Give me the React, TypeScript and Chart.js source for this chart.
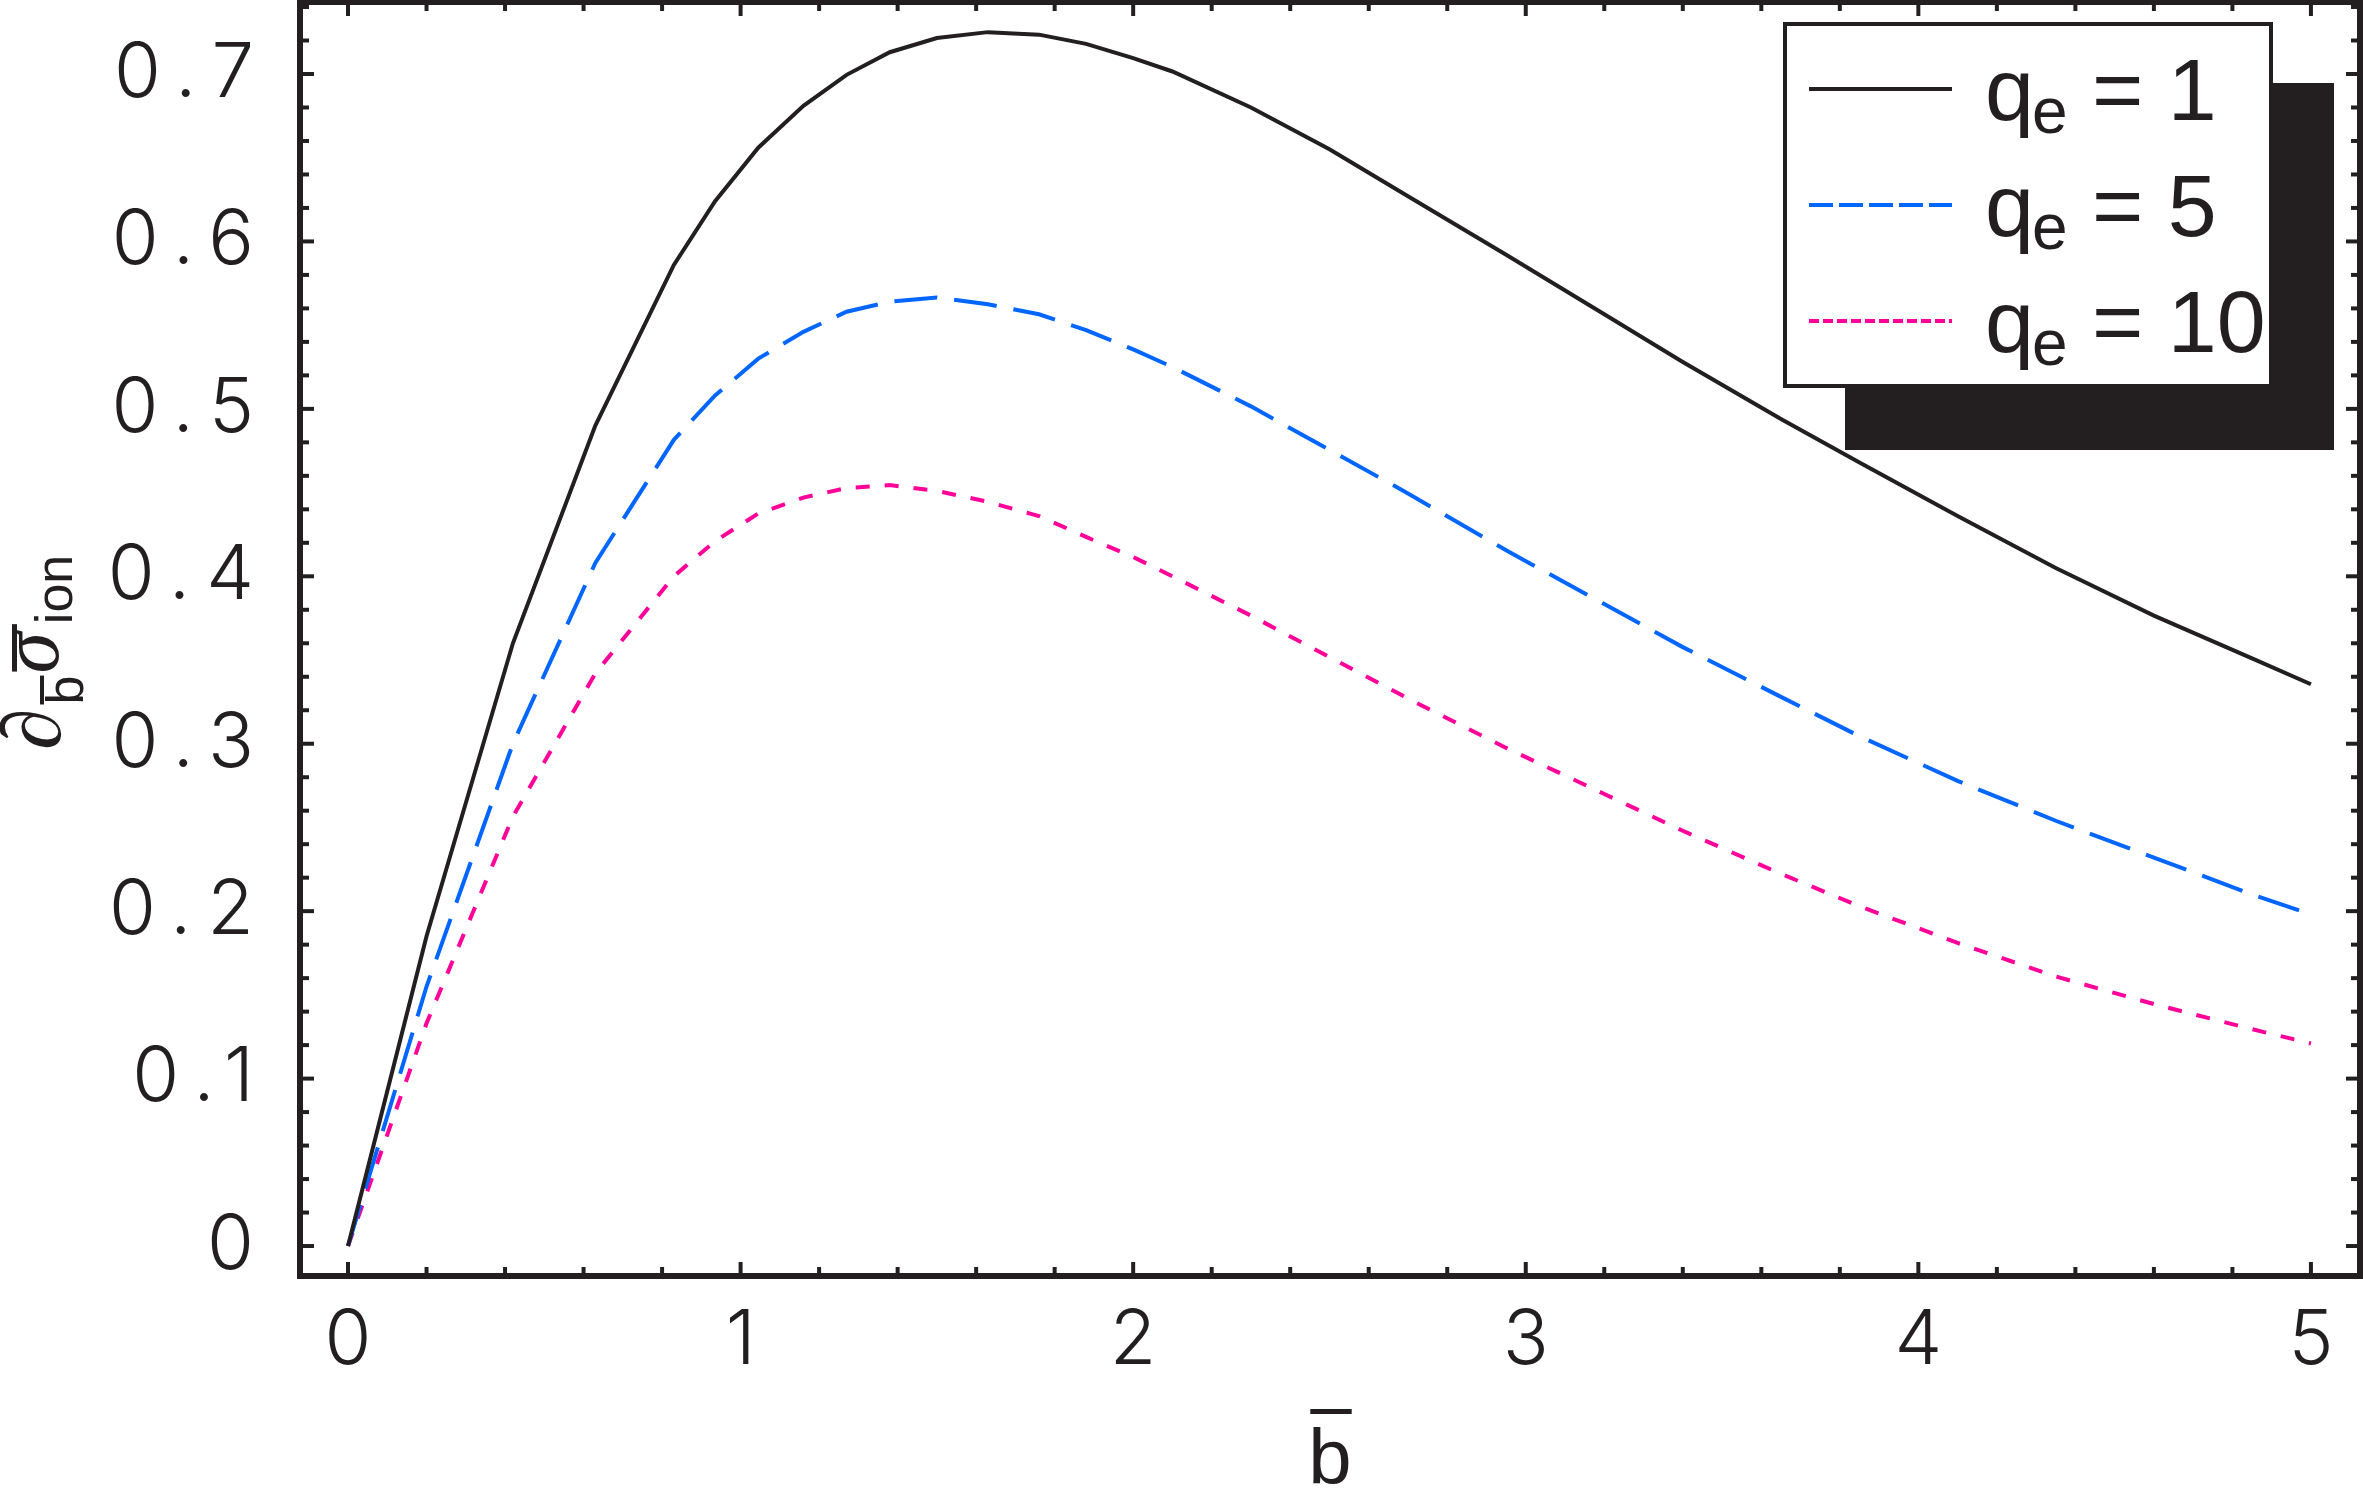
import { useEffect, useRef } from "react";
import { Chart, registerables } from "chart.js";

Chart.register(...registerables);

// ---------- data ----------
const bValues = [0, 0.2, 0.42, 0.63, 0.83, 0.935, 1.045, 1.16, 1.27, 1.38, 1.5, 1.63, 1.76, 1.88, 2.0, 2.1, 2.3, 2.5, 2.7, 2.95, 3.2, 3.4, 3.65, 3.85, 4.1, 4.35, 4.6, 4.85, 5.0];
const sigmaQe1 = [0, 0.185, 0.36, 0.49, 0.586, 0.624, 0.656, 0.681, 0.6995, 0.713, 0.7215, 0.725, 0.7235, 0.718, 0.7095, 0.7015, 0.68, 0.655, 0.627, 0.592, 0.5565, 0.528, 0.494, 0.468, 0.436, 0.405, 0.3765, 0.351, 0.3355];
const sigmaQe5 = [0, 0.155, 0.3, 0.408, 0.4815, 0.508, 0.53, 0.546, 0.558, 0.564, 0.5665, 0.5625, 0.5565, 0.547, 0.5355, 0.525, 0.5015, 0.4755, 0.4495, 0.4155, 0.3834, 0.3577, 0.328, 0.3045, 0.2778, 0.254, 0.232, 0.21, 0.198];
const sigmaQe10 = [0, 0.133, 0.2565, 0.342, 0.4, 0.421, 0.4375, 0.447, 0.4527, 0.4545, 0.451, 0.4445, 0.436, 0.4235, 0.4115, 0.4, 0.3765, 0.3518, 0.327, 0.2975, 0.27, 0.248, 0.2223, 0.203, 0.181, 0.161, 0.1445, 0.1295, 0.121];
const qeLabels = ["1", "5", "10"];
const xTickValues = [0, 1, 2, 3, 4, 5];
const yTickValues = [0, 0.1, 0.2, 0.3, 0.4, 0.5, 0.6, 0.7];
const xMinorStep = 0.2;
const yMinorStep = 0.02;

// ---------- styling ----------
const W = 2363;
const H = 1492;
const INK = "#231f20";
const BLUE = "#0066ff";
const PINK = "#ff0099";
const seriesColors = [INK, BLUE, PINK];
const plotDashes: number[][] = [[], [43, 17], [14, 15]];
const legendDashes: number[][] = [[], [24, 6], [10, 4]];
const TICK_SPACING = 16;
const tickFont = { family: "Inter, Roboto, 'Noto Sans', sans-serif", size: 76, weight: "300" as any };

const zeroPad = (s: any) => {
  s.paddingTop = 0;
  s.paddingBottom = 0;
  s.paddingLeft = 0;
  s.paddingRight = 0;
};

const decorPlugin = {
  id: "decor",
  beforeDraw(chart: any) {
    // monospace-like spacing for the tick labels drawn by the scales
    (chart.ctx as any).letterSpacing = TICK_SPACING + "px";
  },
  afterDatasetsDraw(chart: any) {
    const { ctx, chartArea: a, scales } = chart;
    (ctx as any).letterSpacing = "0px";
    const xs = scales.x;
    const ys = scales.y;
    ctx.save();
    ctx.strokeStyle = INK;
    ctx.fillStyle = INK;
    ctx.lineCap = "butt";

    // inward ticks on all four sides
    ctx.lineWidth = 4;
    const seg = (x1: number, y1: number, x2: number, y2: number) => {
      ctx.beginPath();
      ctx.moveTo(x1, y1);
      ctx.lineTo(x2, y2);
      ctx.stroke();
    };
    for (let i = Math.ceil(xs.min / xMinorStep); i * xMinorStep <= xs.max + 1e-9; i++) {
      const v = i * xMinorStep;
      const major = xTickValues.some((t) => Math.abs(t - v) < 1e-6);
      const len = major ? 14 : 9;
      const px = xs.getPixelForValue(v);
      seg(px, a.bottom, px, a.bottom - len);
      seg(px, a.top, px, a.top + len);
    }
    for (let i = Math.ceil(ys.min / yMinorStep); i * yMinorStep <= ys.max + 1e-9; i++) {
      const v = i * yMinorStep;
      const major = yTickValues.some((t) => Math.abs(t - v) < 1e-6);
      const len = major ? 14 : 9;
      const py = ys.getPixelForValue(v);
      seg(a.left, py, a.left + len, py);
      seg(a.right, py, a.right - len, py);
    }

    // frame
    ctx.lineWidth = 6;
    ctx.strokeRect(a.left, a.top, a.right - a.left, a.bottom - a.top);

    // legend with drop shadow
    const lx = 1783, ly = 22, lw = 490, lh = 366;
    ctx.fillStyle = INK;
    ctx.fillRect(lx + 62, ly + 61, lw - 1, lh + 1);
    ctx.fillStyle = "#ffffff";
    ctx.fillRect(lx, ly, lw, lh);
    ctx.lineWidth = 4;
    ctx.strokeStyle = INK;
    ctx.strokeRect(lx + 2, ly + 2, lw - 4, lh - 4);
    const rowY = [89, 205, 321];
    qeLabels.forEach((lab, i) => {
      const y = rowY[i];
      ctx.strokeStyle = seriesColors[i];
      ctx.lineWidth = 4;
      ctx.setLineDash(legendDashes[i]);
      seg(1809, y, 1952, y);
      ctx.setLineDash([]);
      ctx.fillStyle = INK;
      ctx.textAlign = "left";
      ctx.textBaseline = "alphabetic";
      ctx.font = '88px "Liberation Sans"';
      ctx.fillText("q", 1985, y + 31);
      const qw = ctx.measureText("q").width;
      ctx.font = '64px "Liberation Sans"';
      ctx.fillText("e", 1985 + qw - 2, y + 44);
      const ew = ctx.measureText("e").width;
      ctx.font = '88px "Liberation Sans"';
      ctx.fillText(" = " + lab, 1985 + qw - 2 + ew, y + 31);
    });

    // x-axis title: b with overline
    ctx.fillStyle = INK;
    ctx.font = '78px "Liberation Sans"';
    ctx.textAlign = "left";
    ctx.textBaseline = "alphabetic";
    const bw = ctx.measureText("b").width;
    const bx = (a.left + a.right) / 2 - bw / 2;
    ctx.fillText("b", bx, 1484);
    ctx.fillRect(bx + 2, 1409, bw - 2, 5);

    // y-axis title: ∂_{b̄} σ̄_ion, rotated
    ctx.save();
    ctx.translate(58, 750);
    ctx.rotate(-Math.PI / 2);
    ctx.textAlign = "left";
    ctx.textBaseline = "alphabetic";
    ctx.font = 'italic 84px "Liberation Serif"';
    ctx.fillText("\u2202", 0, 2);
    let u = ctx.measureText("\u2202").width + 4;
    ctx.font = '52px "Liberation Sans"';
    const sbw = ctx.measureText("b").width;
    ctx.fillText("b", u, 25);
    ctx.fillRect(u, -18, sbw, 4);
    u += sbw + 2;
    ctx.font = 'italic 84px "Liberation Serif"';
    const sw = ctx.measureText("\u03c3").width;
    ctx.fillText("\u03c3", u, 0);
    ctx.fillRect(u + 2, -46, sw + 6, 5);
    u += sw + 8;
    ctx.font = '52px "Liberation Sans"';
    ctx.fillText("ion", u, 14);
    ctx.restore();

    ctx.restore();
  },
};

export default function App() {
  const ref = useRef<HTMLCanvasElement>(null);
  useEffect(() => {
    const canvas = ref.current;
    if (!canvas) return;
    const series = [sigmaQe1, sigmaQe5, sigmaQe10];
    const chart = new Chart(canvas, {
      type: "line",
      data: {
        datasets: series.map((arr, i) => ({
          label: "q_e = " + qeLabels[i],
          data: bValues.map((x, k) => ({ x, y: arr[k] })),
          borderColor: seriesColors[i],
          borderWidth: 4,
          borderDash: plotDashes[i],
          pointRadius: 0,
          tension: 0,
          fill: false,
        })),
      },
      options: {
        animation: false,
        responsive: false,
        devicePixelRatio: 1,
        layout: { padding: { top: 2, right: 3, left: 0, bottom: 0 } },
        plugins: { legend: { display: false }, tooltip: { enabled: false } },
        scales: {
          x: {
            type: "linear",
            min: -0.1223,
            max: 5.125,
            grid: { display: false, drawTicks: false },
            border: { display: false },
            afterFit: (s: any) => {
              s.height = 216;
              zeroPad(s);
            },
            afterBuildTicks: (s: any) => {
              s.ticks = xTickValues.map((v) => ({ value: v }));
            },
            ticks: {
              autoSkip: false,
              maxRotation: 0,
              padding: 20,
              labelOffset: TICK_SPACING / 2,
              color: INK,
              font: tickFont,
              callback: (v: any) => String(v),
            },
          },
          y: {
            type: "linear",
            min: -0.0179,
            max: 0.743,
            grid: { display: false, drawTicks: false },
            border: { display: false },
            afterFit: (s: any) => {
              s.width = 300;
              zeroPad(s);
            },
            afterBuildTicks: (s: any) => {
              s.ticks = yTickValues.map((v) => ({ value: v }));
            },
            ticks: {
              autoSkip: false,
              padding: 30,
              color: INK,
              font: tickFont,
              callback: (v: any) => (v === 0 ? "0" : Number(v).toFixed(1)),
            },
          },
        },
      },
      plugins: [decorPlugin],
    });
    return () => chart.destroy();
  }, []);
  return (
    <div style={{ position: "fixed", left: 0, top: 0, width: W, height: H, background: "#fff" }}>
      <canvas ref={ref} width={W} height={H} style={{ display: "block", width: W, height: H }} />
    </div>
  );
}
